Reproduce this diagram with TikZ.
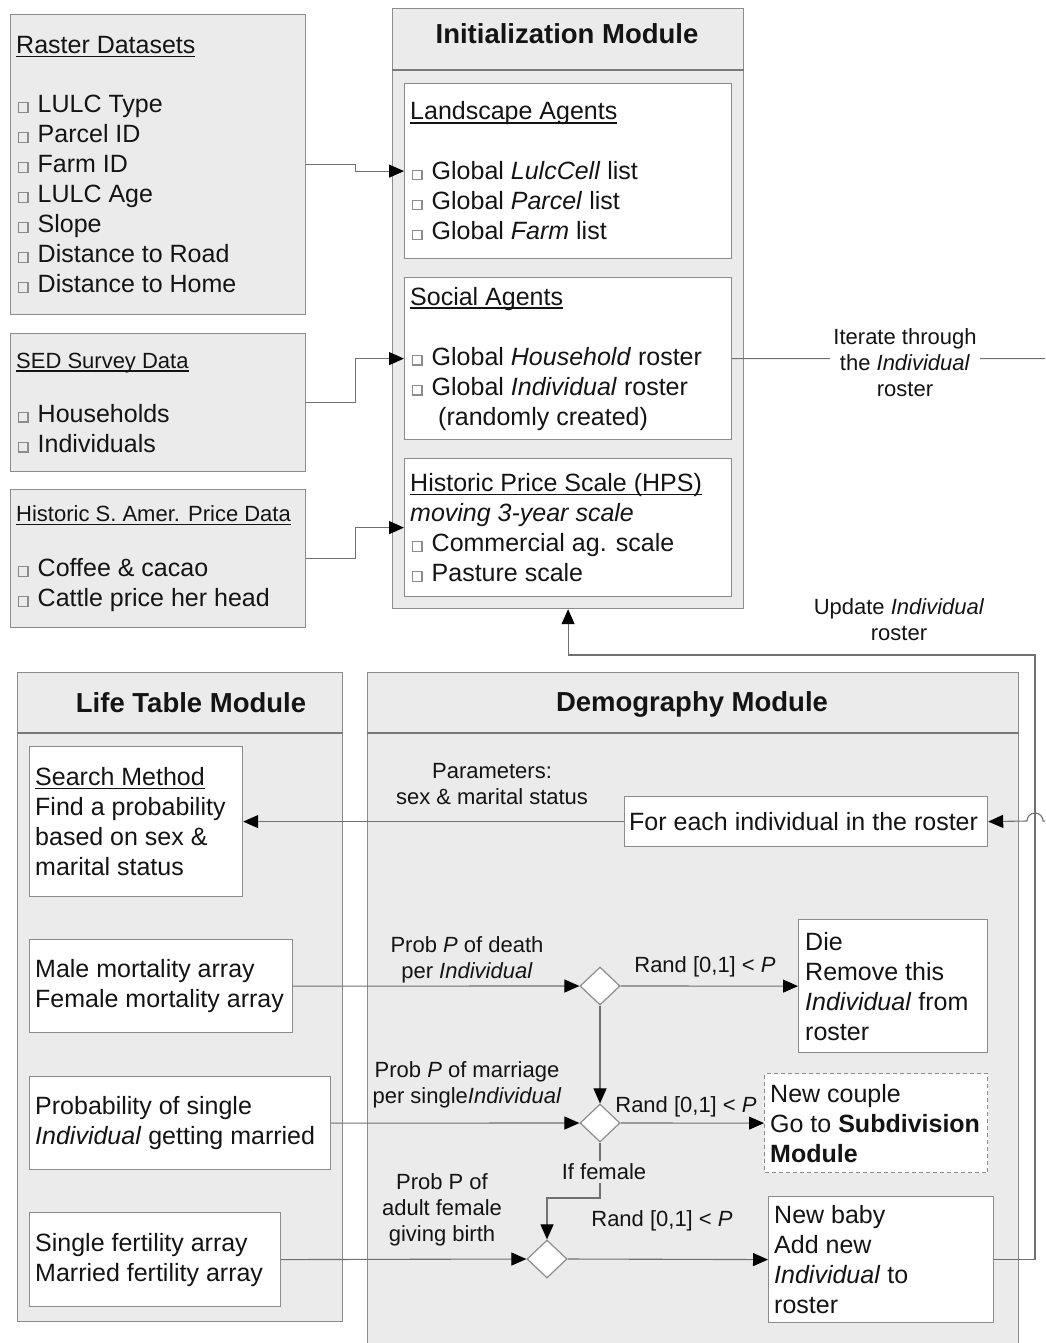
\documentclass[tikz,border=0pt]{standalone}
\usepackage{fontspec}
\setmainfont{Liberation Sans}
\usetikzlibrary{shapes.geometric,arrows.meta,calc}

\definecolor{modfill}{RGB}{235,235,235}
\definecolor{edgegray}{RGB}{140,140,140}
\definecolor{sepgray}{RGB}{120,120,120}
\definecolor{wiregray}{RGB}{112,112,112}
\definecolor{inkblack}{RGB}{20,20,20}

% small hollow bullet square used in the item lists
\newcommand\sqb{\hspace{1.5pt}\raisebox{0.6pt}{\textcolor{edgegray}{\fboxsep=0pt\fboxrule=1.1pt\fbox{\rule{0pt}{8.6pt}\hspace{8.6pt}}}}\hspace{9.2pt}}
% heading underline at a fixed depth below the baseline
\newcommand\ulin[1]{\setbox0\hbox{#1}\rlap{\rule[-3.6pt]{\wd0}{1.2pt}}\box0}

\begin{document}
\begin{tikzpicture}[x=1pt,y=-1pt,
  module/.style={rectangle,draw=edgegray,fill=modfill,line width=1.2pt,inner sep=0pt,anchor=north west},
  srcbox/.style={rectangle,draw=edgegray,fill=modfill,line width=1.2pt,inner sep=0pt,anchor=north west},
  inbox/.style={rectangle,draw=edgegray,fill=white,line width=1.2pt,inner sep=0pt,anchor=north west},
  body/.style={font=\fontsize{25}{30}\selectfont,text=inkblack,align=left,inner sep=0pt,anchor=west},
  lbl/.style={font=\fontsize{22}{26}\selectfont,text=inkblack,align=center,inner sep=3pt},
  ttl/.style={font=\fontsize{27.5}{33}\selectfont\bfseries,text=inkblack,inner sep=0pt,text height=19.7pt,text depth=0pt},
  sepline/.style={draw=sepgray,line width=1.2pt},
  conn/.style={draw=wiregray,line width=1.1pt},
  arr/.style={conn,-{Triangle[length=15pt,width=13pt,color=black]}},
  decision/.style={diamond,draw=edgegray,fill=white,line width=1.2pt,minimum width=40pt,minimum height=38pt,inner sep=0pt}]

\useasboundingbox (0,0) rectangle (1045,1343);
\clip (0,0) rectangle (1045,1343);

% ---------- input data sources ----------
\node[srcbox,minimum width=295pt,minimum height=300pt] (raster) at (10,14) {};
\node[body] (rasterT) at ([xshift=6pt]raster.west) {\ulin{Raster Datasets}\\[29pt]
  \sqb LULC Type\\ \sqb Parcel ID\\ \sqb Farm ID\\ \sqb LULC Age\\ \sqb Slope\\
  \sqb Distance to Road\\ \sqb Distance to Home};

\node[srcbox,minimum width=295pt,minimum height=138pt] (sed) at (10,333) {};
\node[body] (sedT) at ([xshift=6pt]sed.west) {{\fontsize{22}{26}\selectfont\ulin{SED Survey Data}}\\[24pt]
  \sqb Households\\ \sqb Individuals};

\node[srcbox,minimum width=295pt,minimum height=138pt] (hist) at (10,489) {};
\node[body] (histT) at ([xshift=6pt]hist.west) {{\fontsize{22}{26}\selectfont\ulin{Historic S. Amer. Price Data}}\\[25pt]
  \sqb Coffee \& cacao\\ \sqb Cattle price her head};

% ---------- initialization module ----------
\node[module,minimum width=351pt,minimum height=600pt] (init) at (392,8) {};
\draw[sepline] ([yshift=-62pt]init.north west) -- ([yshift=-62pt]init.north east);
\node[ttl] (initT) at (567,34) {Initialization Module};

\node[inbox,minimum width=327pt,minimum height=175pt] (landscape) at (404,83) {};
\node[body] (landscapeT) at ([xshift=6pt]landscape.west) {\ulin{Landscape Agents}\\[30pt]
  \sqb Global \textit{LulcCell} list\\ \sqb Global \textit{Parcel} list\\ \sqb Global \textit{Farm} list};

\node[inbox,minimum width=327pt,minimum height=162pt] (social) at (404,277) {};
\node[body] (socialT) at ([xshift=6pt]social.west) {\ulin{Social Agents}\\[30pt]
  \sqb Global \textit{Household} roster\\ \sqb Global \textit{Individual} roster\\
  \hspace*{28pt}(randomly created)};

\node[inbox,minimum width=327pt,minimum height=138pt] (hps) at (404,458) {};
\node[body] (hpsT) at ([xshift=6pt]hps.west) {\ulin{Historic Price Scale (HPS)}\\
  \textit{moving 3-year scale}\\ \sqb Commercial ag. scale\\ \sqb Pasture scale};

% ---------- life table module ----------
\node[module,minimum width=325pt,minimum height=649pt] (life) at (17,672) {};
\draw[sepline] ([yshift=-61pt]life.north west) -- ([yshift=-61pt]life.north east);
\node[ttl] (lifeT) at (191,703) {Life Table Module};

\node[inbox,minimum width=213pt,minimum height=150pt] (search) at (29,746) {};
\node[body] (searchT) at ([xshift=6pt]search.west) {\ulin{Search Method}\\
  Find a probability\\ based on sex \&\\ marital status};

\node[inbox,minimum width=263pt,minimum height=93pt] (mort) at (29,939) {};
\node[body] (mortT) at ([xshift=6pt]mort.west) {Male mortality array\\ Female mortality array};

\node[inbox,minimum width=301pt,minimum height=93pt] (marr) at (29,1076) {};
\node[body] (marrT) at ([xshift=6pt]marr.west) {Probability of single\\ \textit{Individual} getting married};

\node[inbox,minimum width=251pt,minimum height=94pt] (fert) at (29,1212) {};
\node[body] (fertT) at ([xshift=6pt]fert.west) {Single fertility array\\ Married fertility array};

% ---------- demography module ----------
\node[module,minimum width=651pt,minimum height=720pt] (demo) at (367,672) {};
\draw[sepline] ([yshift=-61pt]demo.north west) -- ([yshift=-61pt]demo.north east);
\node[ttl] (demoT) at (692,702) {Demography Module};

\node[inbox,minimum width=363pt,minimum height=50pt] (foreach) at (624,796) {};
\node[body] (foreachT) at ([xshift=5pt]foreach.west) {For each individual in the roster};

\node[inbox,minimum width=189pt,minimum height=133pt] (die) at (798,919) {};
\node[body] (dieT) at ([xshift=7pt]die.west) {Die\\ Remove this\\ \textit{Individual} from\\ roster};

\node[inbox,dashed,dash pattern=on 4pt off 3pt,minimum width=223pt,minimum height=99pt] (couple) at (764,1073) {};
\node[body] (coupleT) at ([xshift=6pt]couple.west) {New couple\\ Go to \textbf{Subdivision}\\ \textbf{Module}};

\node[inbox,minimum width=225pt,minimum height=126pt] (baby) at (768,1196) {};
\node[body] (babyT) at ([xshift=6pt]baby.west) {New baby\\ Add new\\ \textit{Individual} to\\ roster};

\node[decision] (d1) at (600,986) {};
\node[decision] (d2) at (600,1123) {};
\node[decision] (d3) at (547,1259) {};

% ---------- connectors ----------
\draw[arr] (raster.east) -- ++(49,0) |- (landscape.west);
\draw[arr] (sed.east) -- ++(49,0) |- (social.west);
\draw[arr] (hist.east) -- ++(49,0) |- (hps.west);

\coordinate (loopA) at (1060,358);
\coordinate (loopB) at (1060,821);
\coordinate (hopR) at (1043,821);
\draw[arr] (social.east) -- (social.east -| loopA) -- (loopB) -- (hopR)
  arc[start angle=0,end angle=180,radius=8pt] -- (foreach.east);

\coordinate (updC) at (1035,655);
\draw[arr] (baby.east) -| (updC) -| (init.south);

\draw[arr] (foreach.west) -- (search.east);
\draw[arr] (mort.east) -- (d1.west);
\draw[arr] (d1.east) -- (die.west);
\draw[arr] (d1.south) -- (d2.north);
\draw[arr] (marr.east) -- (d2.west);
\draw[arr] (d2.east) -- (couple.west);
\coordinate (femC) at (600,1198);
\draw[arr] (d2.south) -- (femC) -| (d3.north);
\draw[arr] (fert.east) -- (d3.west);
\draw[arr] (d3.east) -- (baby.west);

% ---------- connector labels ----------
\node[lbl,fill=white] (iterL) at (905,363) {Iterate through\\ the \textit{Individual}\\ roster};
\node[lbl] (updL) at (899,620) {Update \textit{Individual}\\ roster};
\node[lbl] (parL) at (492,784) {Parameters:\\ sex \& marital status};
\node[lbl] (deathL) at (467,960) {Prob \textit{P} of death\\ per \textit{Individual}};
\node[lbl] (rand1) at (705,967) {Rand [0,1] < \textit{P}};
\node[lbl] (marL) at (467,1085) {Prob \textit{P} of marriage\\ per single\textit{Individual}};
\node[lbl] (rand2) at (686,1107) {Rand [0,1] < \textit{P}};
\node[lbl,fill=modfill] (femL) at (604,1172) {If female};
\node[lbl] (birthL) at (442,1210) {Prob P of\\ adult female\\ giving birth};
\node[lbl] (rand3) at (662,1221) {Rand [0,1] < \textit{P}};

\end{tikzpicture}
\end{document}
